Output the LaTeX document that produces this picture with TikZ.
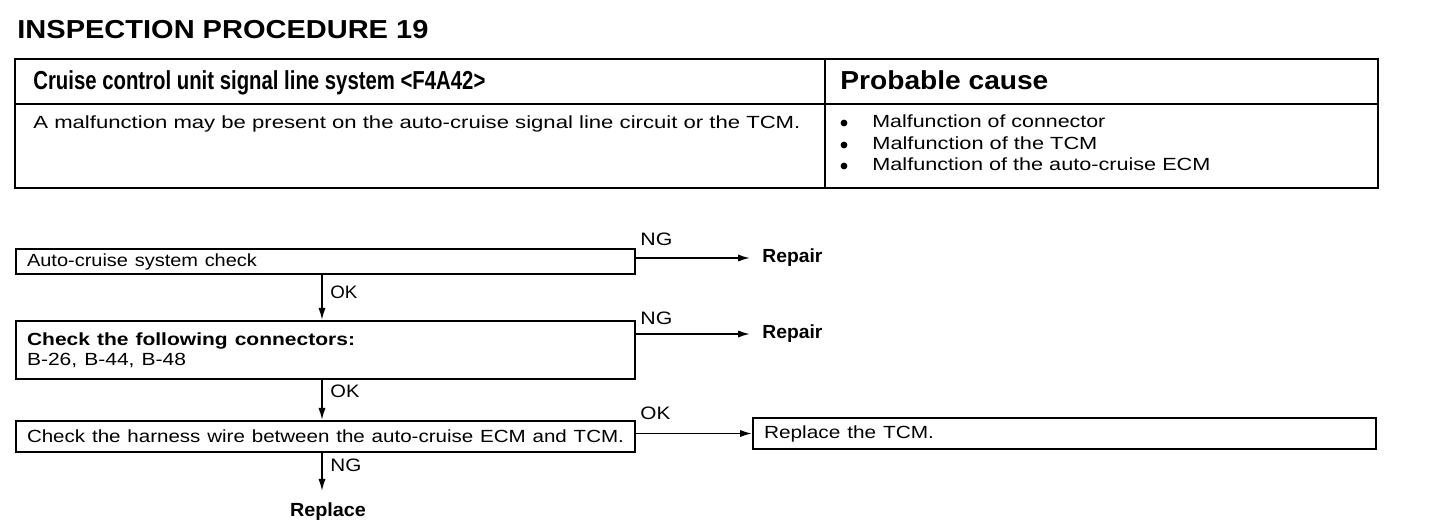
\documentclass[tikz,border=0pt]{standalone}
\usepackage{fontspec}
\setmainfont{Liberation Sans}
\usetikzlibrary{arrows.meta}
\newcommand\fitw[2]{\resizebox{#1}{\height}{#2}}
\begin{document}
\begin{tikzpicture}[x=0.5pt,y=-0.5pt,
  every node/.style={inner sep=0pt},
  sm/.style={font=\fontsize{8.8}{10}\selectfont},
  smb/.style={font=\fontsize{9.5}{10}\selectfont\bfseries},
  hd/.style={font=\fontsize{13}{14}\selectfont\bfseries, anchor=base west},
  txt/.style={sm, anchor=base west},
  fbox/.style={draw, line width=1pt, anchor=north west, align=left, sm, inner xsep=5.5pt},
  arr/.style={line width=0.8pt, -{Latex[length=6pt,width=3.6pt]}},
  lbl/.style={font=\fontsize{9}{10}\selectfont, anchor=base west},
  dot/.style={circle, fill, minimum size=3.4pt},
]
\useasboundingbox (0,0) rectangle (1440,528);

% title
\node[anchor=base west, font=\fontsize{13}{14}\selectfont\bfseries] (title) at (17,39)
  {\fitw{205.5pt}{INSPECTION PROCEDURE 19}};

% table
\draw[line width=1.4pt] (15,59) rectangle (1378,188);
\draw[line width=0.9pt] (15,104) -- (1378,104);
\draw[line width=0.7pt] (825,59) -- (825,188);
\node[hd] (h1) at (33,90) {\fitw{226pt}{Cruise control unit signal line system <F4A42>}};
\node[hd] (h2) at (840,90) {\fitw{104pt}{Probable cause}};
\node[txt] (desc) at (33,129) {\fitw{383.5pt}{A malfunction may be present on the auto-cruise signal line circuit or the TCM.}};
\node[dot] (d1) at (844,123) {};
\node[dot] (d2) at (844,145) {};
\node[dot] (d3) at (844,166) {};
\node[txt] (c1) at (872,128) {\fitw{116.5pt}{Malfunction of connector}};
\node[txt] (c2) at (872,150) {\fitw{112.5pt}{Malfunction of the TCM}};
\node[txt] (c3) at (872,171) {\fitw{169pt}{Malfunction of the auto-cruise ECM}};

% flow boxes
\node[fbox, minimum width=309.5pt, minimum height=12.5pt, text width=298.5pt] (b1) at (15,248)
  {\fitw{115pt}{Auto-cruise system check}};
\node[fbox, minimum width=309.5pt, minimum height=29pt, text width=298.5pt] (b2) at (15,320)
  {\fitw{164pt}{\bfseries Check the following connectors:}\\\fitw{79.5pt}{B-26, B-44, B-48}};
\node[fbox, minimum width=309.5pt, minimum height=15.5pt, text width=298.5pt] (b3) at (15,420)
  {\fitw{298.5pt}{Check the harness wire between the auto-cruise ECM and TCM.}};
\node[fbox, minimum width=311.5pt, minimum height=15.5pt, text width=300.5pt] (b4) at (752,417)
  {\fitw{85pt}{Replace the TCM.}};

% result nodes
\node[smb, anchor=west, inner xsep=6pt] (r1) at (750,258) {\fitw{30pt}{Repair}};
\node[smb, anchor=west, inner xsep=6pt] (r2) at (750,334) {\fitw{30pt}{Repair}};
\node[smb, anchor=base] (rp) at (328,517) {\fitw{38pt}{Replace}};
\coordinate (e3) at (322,491);

% connectors
\draw[arr] (b1.east |- r1.west) -- (r1.west);
\draw[arr] (b2.east |- r2.west) -- (r2.west);
\draw[arr] (b3.east |- b4.west) -- (b4.west);
\draw[arr] (b1.south -| e3) -- (b2.north -| e3);
\draw[arr] (b2.south -| e3) -- (b3.north -| e3);
\draw[arr] (b3.south -| e3) -- (e3);

% labels
\node[lbl] (ng1) at (640,246) {\fitw{16pt}{NG}};
\node[lbl] (ng2) at (640,325) {\fitw{16pt}{NG}};
\node[lbl] (ok3) at (640,420) {\fitw{15pt}{OK}};
\node[lbl] (ok1) at (330,299) {\fitw{13.5pt}{OK}};
\node[lbl] (ok2) at (330,398) {\fitw{14.5pt}{OK}};
\node[lbl] (ng3) at (330,472) {\fitw{15.5pt}{NG}};
\end{tikzpicture}
\end{document}
